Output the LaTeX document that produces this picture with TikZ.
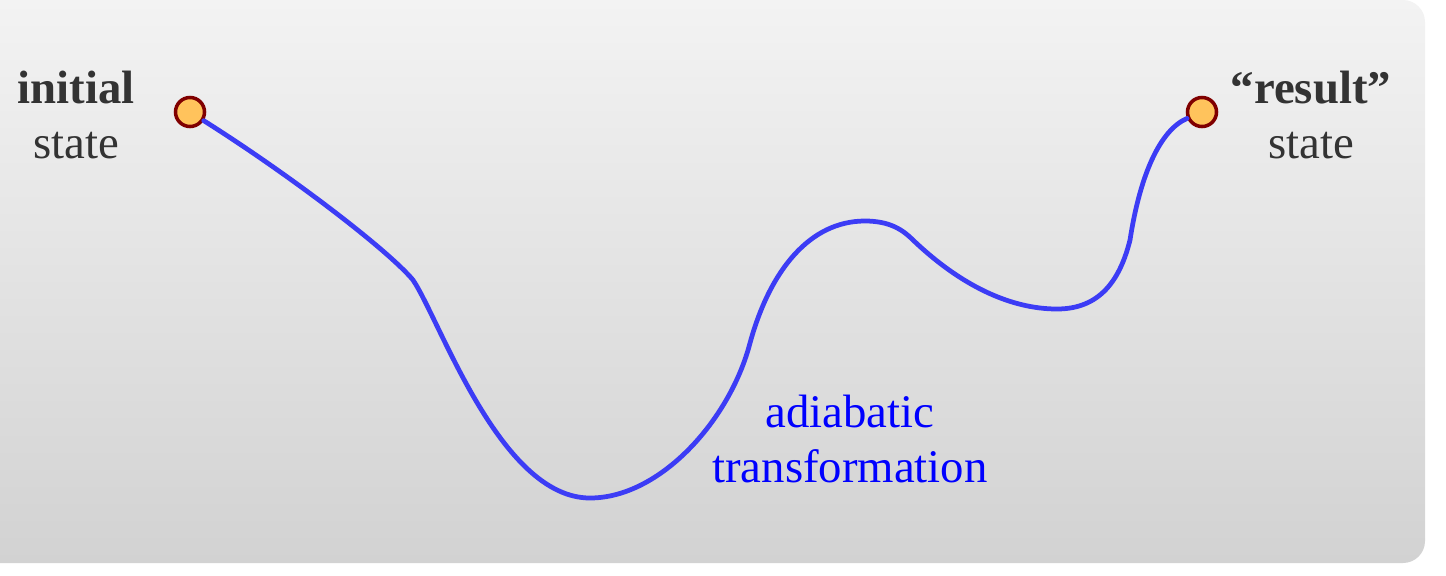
\documentclass[tikz,border=0pt]{standalone}
\usepackage{fontspec}
\setmainfont{Liberation Serif}
\usepackage{tikz}
\usetikzlibrary{positioning}
\definecolor{bgtop}{HTML}{F3F3F3}
\definecolor{bgbottom}{HTML}{D2D2D2}
\definecolor{statefill}{HTML}{FFC35C}
\definecolor{stateline}{HTML}{800000}
\definecolor{pathblue}{HTML}{3C3CF5}
\definecolor{labeldark}{HTML}{333333}
\begin{document}
\begin{tikzpicture}[x=0.01cm, y=-0.01cm, statedot/.style={circle, draw=stateline, fill=statefill, line width=1pt, minimum size=0.29cm, inner sep=0pt}, statelabel/.style={align=center, text=labeldark, inner sep=0pt, font=\fontsize{13.3}{15.6}\selectfont}, adiabatic/.style={draw=pathblue, line width=1.35pt, line cap=round}]
\useasboundingbox (0,0) rectangle (1446,575);
\shade[top color=bgtop, bottom color=bgbottom, rounded corners=0.22cm] (-40,0) rectangle (1425,563);
\node[statedot] (initial) at (190,112) {};
\node[statedot] (result) at (1202,112) {};
\node[statelabel] (initiallabel) at (76,115) {\textbf{initial}\\state};
\node[statelabel] (resultlabel) at (1311,115) {\textbf{“result”}\\state};
\node[statelabel, text=blue] (adiabaticlabel) at (850,439) {adiabatic\\transformation};
\draw[adiabatic] (initial) .. controls (290,175) and (388,250) .. (413,280)
  .. controls (440,320) and (500,498) .. (590,498)
  .. controls (660,498) and (730,420) .. (750,343)
  .. controls (770,270) and (810,221) .. (865,221)
  .. controls (890,221) and (903,230) .. (913,240)
  .. controls (960,285) and (1010,309) .. (1057,309)
  .. controls (1100,309) and (1120,280) .. (1130,240)
  .. controls (1140,175) and (1160,130) .. (result);
\end{tikzpicture}
\end{document}
